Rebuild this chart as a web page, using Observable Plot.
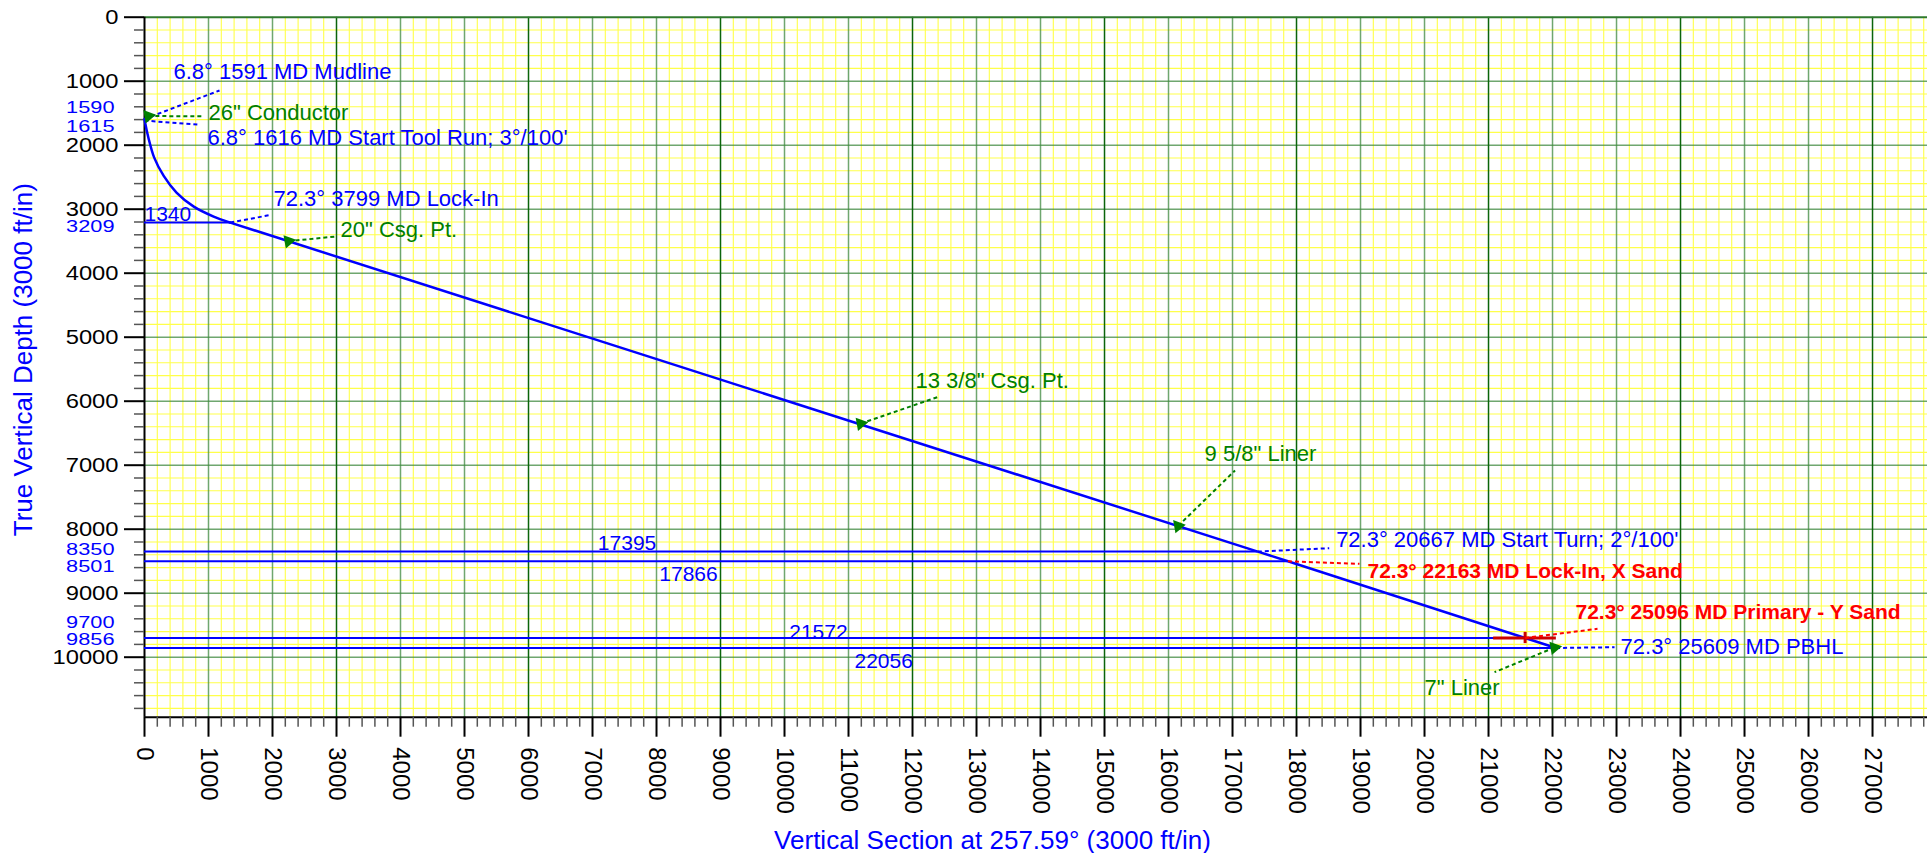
<!DOCTYPE html>
<html>
<head>
<meta charset="utf-8">
<script src="https://cdn.jsdelivr.net/npm/d3@7"></script>
<script src="https://cdn.jsdelivr.net/npm/@observablehq/plot@0.6"></script>
<style>
  html, body { margin: 0; padding: 0; background: #fff; overflow: hidden; }
  #chart svg { display: block; overflow: visible; }
</style>
</head>
<body>
<div id="chart"></div>
<script>
// ---------------- data ----------------
// build section: vertical section (ft) and TVD (ft)
const buildVS  = [0, 10, 60, 150, 300, 500, 770, 1080, 1340];
const buildTVD = [1590, 1650, 1880, 2190, 2480, 2740, 2960, 3115, 3209];
// tangent / target stations
const stationVS  = [1340, 17395, 17866, 21572, 22056];
const stationTVD = [3209, 8350, 8501, 9700, 9856];
// key depths labelled on the TVD axis
const keyTVD = [1590, 1615, 3209, 8350, 8501, 9700, 9856];
// casing points
const casingName = ['26" Conductor', '20" Csg. Pt.', '13 3/8" Csg. Pt.', '9 5/8" Liner', '7" Liner'];
const casingVS   = [60, 2250, 11190, 16150, 22030];
const casingTVD  = [1545, 3500, 6350, 7950, 9850];
// survey annotations
const annText = [
  "6.8\u00B0 1591 MD Mudline",
  "6.8\u00B0 1616 MD Start Tool Run; 3\u00B0/100'",
  "72.3\u00B0 3799 MD Lock-In",
  "72.3\u00B0 20667 MD Start Turn; 2\u00B0/100'",
  "72.3\u00B0 22163 MD Lock-In, X Sand",
  "72.3\u00B0 25096 MD Primary - Y Sand",
  "72.3\u00B0 25609 MD PBHL"
];
const annVS  = [0, 0, 1340, 17395, 17866, 21572, 22056];
const annTVD = [1590, 1615, 3209, 8350, 8501, 9700, 9856];
const annKind = ["survey", "survey", "survey", "survey", "target", "target", "survey"];
// tick values
const xTicks = d3.range(0, 28000, 1000);
const yTicks = d3.range(0, 11000, 1000);

// ---------------- layout ----------------
const W = 1927, H = 853;
const mL = 144, mT = 16.7, mB = 136.3, mR = 0;
const xMax = 27859, yMax = 10937.5;
const BLUE = "#0000ff", GREEN = "#008000", RED = "#ff0000";

const xMinor = d3.range(200, xMax, 200).filter(v => v % 1000 !== 0);
const yMinor = d3.range(200, yMax, 200).filter(v => v % 1000 !== 0);
const xGridMajor = xTicks.filter(v => v > 0);
const yGridMajor = yTicks.filter(v => v > 0);

// label placement (data units) – layout only
const annLabelPos = [
  [453, 848, 1172, 1145],
  [984, 1880, 859, 1681],
  [2016, 2838, 1980, 3088],
  [18619, 8166, 18511, 8297],
  [19109, 8656, 18984, 8541],
  [22359, 9297, 22703, 9556],
  [23063, 9844, 22969, 9844]
];
const casingLabelPos = [
  [1000, 1489, 922, 1547],
  [3063, 3322, 2984, 3427],
  [12047, 5677, 12386, 5938],
  [16563, 6817, 17039, 7083],
  [20000, 10478, 21094, 10234]
];
const keyLabelY = [1416, 1719, 3281, 8317, 8594, 9463, 9728];
const horizLabelPos = [
  [0, 3072],
  [7540, 8224],
  [8500, 8708],
  [10530, 9614],
  [11550, 10059]
];

// ---------------- derived tables ----------------
const buildPts = buildVS.map((v, i) => ({vs: v, tvd: buildTVD[i]}));
const tangentPts = stationVS.map((v, i) => ({vs: v, tvd: stationTVD[i]}));
const horiz = stationVS.map((v, i) => ({
  vs: v, tvd: stationTVD[i], label: String(v),
  lx: horizLabelPos[i][0], ly: horizLabelPos[i][1]
}));
const keys = keyTVD.map((t, i) => ({tvd: t, ly: keyLabelY[i]}));
const anns = annText.map((t, i) => ({
  text: t, vs: annVS[i], tvd: annTVD[i], kind: annKind[i],
  lx: annLabelPos[i][0], ly: annLabelPos[i][1], ex: annLabelPos[i][2], ey: annLabelPos[i][3]
}));
const casings = casingName.map((n, i) => ({
  text: n, vs: casingVS[i], tvd: casingTVD[i],
  lx: casingLabelPos[i][0], ly: casingLabelPos[i][1], ex: casingLabelPos[i][2], ey: casingLabelPos[i][3]
}));
const surveyAnns = anns.filter(d => d.kind === "survey");
const targetAnns = anns.filter(d => d.kind === "target");

const FONT = "'Liberation Sans', Arial, Helvetica, sans-serif";

const chart = Plot.plot({
  width: W, height: H,
  marginLeft: mL, marginRight: mR, marginTop: mT, marginBottom: mB,
  x: {domain: [0, xMax], axis: null},
  y: {domain: [0, yMax], reverse: true, axis: null},
  style: {fontFamily: FONT, background: "white", overflow: "visible"},
  marks: [
    // grid
    Plot.ruleX(xMinor, {stroke: "#ffff4a", strokeWidth: 1.1}),
    Plot.ruleY(yMinor, {stroke: "#ffff4a", strokeWidth: 1.1}),
    Plot.ruleY(yGridMajor, {stroke: "#3f8a3f", strokeOpacity: 0.75, strokeWidth: 1.6}),
    Plot.ruleX(xGridMajor, {stroke: d => d % 3000 === 0 ? "#0b650b" : "#3f8a3f",
                            strokeOpacity: d => d % 3000 === 0 ? 1 : 0.75, strokeWidth: 1.5}),
    Plot.ruleY([0], {stroke: "#2f7a2f", strokeWidth: 2}),
    // axes frame
    Plot.ruleX([0], {stroke: "black", strokeWidth: 2}),
    Plot.ruleY([yMax], {stroke: "black", strokeWidth: 2}),
    // axes ticks
    Plot.axisY({ticks: yMinor, tickSize: 10, tickFormat: () => "", stroke: "#555", strokeWidth: 1.5}),
    Plot.axisY({ticks: yTicks, tickSize: 20, tickPadding: 6, tickFormat: d => String(d),
                fontSize: 20, fill: "black", stroke: "black", strokeWidth: 2, ariaDescription: "ylabels"}),
    Plot.axisX({ticks: xMinor, tickSize: 10, tickFormat: () => "", stroke: "#555", strokeWidth: 1.5}),
    Plot.axisX({ticks: xTicks, tickSize: 20, tickPadding: 10, tickRotate: 90, tickFormat: d => String(d),
                fontSize: 24, fill: "black", stroke: "black", strokeWidth: 2}),
    // key depth labels on TVD axis
    Plot.text(keys, {x: 0, y: "ly", text: d => String(d.tvd), dx: -30, textAnchor: "end",
                     fill: BLUE, fontSize: 16, ariaDescription: "keylabels"}),
    // horizontal depth lines
    Plot.ruleY(horiz, {y: "tvd", x1: 0, x2: "vs", stroke: BLUE, strokeWidth: 2}),
    Plot.text(horiz.slice(0, 1), {x: "lx", y: "ly", text: "label", textAnchor: "start", fill: BLUE, fontSize: 21}),
    Plot.text(horiz.slice(1), {x: "lx", y: "ly", text: "label", textAnchor: "middle", fill: BLUE, fontSize: 21}),
    // well path
    Plot.line(buildPts, {x: "vs", y: "tvd", stroke: BLUE, strokeWidth: 2.5, curve: "catmull-rom"}),
    Plot.line(tangentPts, {x: "vs", y: "tvd", stroke: BLUE, strokeWidth: 2.5}),
    // target marker
    Plot.ruleY([9700], {x1: 21080, x2: 22060, stroke: "#cc0000", strokeWidth: 3}),
    Plot.ruleX([21572], {y1: 9612, y2: 9788, stroke: "#cc0000", strokeWidth: 3}),
    // leaders
    Plot.link(surveyAnns, {x1: "vs", y1: "tvd", x2: "ex", y2: "ey", stroke: BLUE, strokeWidth: 2, strokeDasharray: "4,3"}),
    Plot.link(targetAnns, {x1: "vs", y1: "tvd", x2: "ex", y2: "ey", stroke: RED, strokeWidth: 2, strokeDasharray: "4,3"}),
    Plot.link(casings, {x1: "vs", y1: "tvd", x2: "ex", y2: "ey", stroke: GREEN, strokeWidth: 2, strokeDasharray: "4,3"}),
    // casing markers
    Plot.dot(casings, {x: "vs", y: "tvd", symbol: "triangle", r: 5, fill: GREEN, rotate: 200}),
    // annotation texts
    Plot.text(surveyAnns, {x: "lx", y: "ly", text: "text", textAnchor: "start", fill: BLUE, fontSize: 22}),
    Plot.text(targetAnns, {x: "lx", y: "ly", text: "text", textAnchor: "start", fill: RED, fontSize: 21, fontWeight: "bold"}),
    Plot.text(casings, {x: "lx", y: "ly", text: "text", textAnchor: "start", fill: GREEN, fontSize: 22}),
    // axis titles
    Plot.text(["Vertical Section at 257.59\u00B0 (3000 ft/in)"], {x: 13250, y: yMax, dy: 123.5,
      text: d => d, fill: BLUE, fontSize: 26}),
    Plot.text(["True Vertical Depth (3000 ft/in)"], {x: 0, y: 5352, dx: -121, rotate: -90,
      text: d => d, fill: BLUE, fontSize: 26})
  ]
});
// the reference draws the TVD axis numbers in a wide face: stretch them horizontally
chart.querySelectorAll('g[aria-description="ylabels"] text').forEach(t => {
  const s = t.textContent.trim();
  if (s) { t.setAttribute("textLength", s.length * 13.2); t.setAttribute("lengthAdjust", "spacingAndGlyphs"); }
});
chart.querySelectorAll('g[aria-description="keylabels"] text').forEach(t => {
  const s = t.textContent.trim();
  if (s) { t.setAttribute("textLength", s.length * 12.1); t.setAttribute("lengthAdjust", "spacingAndGlyphs"); }
});
document.getElementById("chart").appendChild(chart);
</script>
</body>
</html>
